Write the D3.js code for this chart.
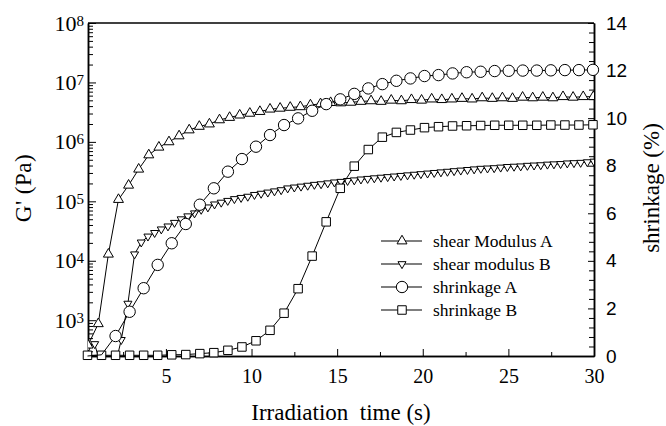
<!DOCTYPE html>
<html>
<head>
<meta charset="utf-8">
<script src="https://cdn.jsdelivr.net/npm/d3@7"></script>
<style>
  html, body { margin: 0; padding: 0; background: #fff; }
  svg { display: block; }
  text { font-family: "Liberation Serif", "Times New Roman", serif; fill: #000; }
</style>
</head>
<body>
<div id="chart"></div>
<script>
// sampling times (s)
var timeA = [0.45, 1.05, 1.64, 2.23, 2.82, 3.41, 4.0, 4.59, 5.18, 5.77, 6.36, 6.95, 7.54, 8.13, 8.72, 9.31,
  9.9, 10.49, 11.08, 11.67, 12.26, 12.85, 13.44, 14.03, 14.62, 15.21, 15.8, 16.39, 16.98, 17.57, 18.16,
  18.75, 19.34, 19.93, 20.52, 21.11, 21.7, 22.29, 22.88, 23.47, 24.06, 24.65, 25.24, 25.83, 26.42, 27.01,
  27.6, 28.19, 28.78, 29.37, 29.96];
// log10 of G' (Pa), shear modulus A
var shearALog = [2.58, 2.94, 4.11, 5.03, 5.27, 5.54, 5.78, 5.91, 6.00, 6.10, 6.20, 6.26, 6.30, 6.37, 6.41, 6.45,
  6.48, 6.51, 6.55, 6.565, 6.58, 6.59, 6.62, 6.64, 6.66, 6.655, 6.665, 6.68, 6.69, 6.68, 6.70,
  6.69, 6.71, 6.70, 6.72, 6.71, 6.72, 6.73, 6.72, 6.74, 6.73, 6.74, 6.73, 6.75, 6.74, 6.75,
  6.74, 6.76, 6.75, 6.76, 6.76];

var timeB = [0.45, 0.84, 1.23, 1.62, 2.01, 2.39, 2.78, 3.17, 3.56, 3.95, 4.34, 4.73, 5.12, 5.50, 5.89, 6.28,
  6.67, 7.06, 7.45, 7.84, 8.23, 8.61, 9.00, 9.39, 9.78, 10.17, 10.56, 10.95, 11.34, 11.73, 12.11, 12.50,
  12.89, 13.28, 13.67, 14.06, 14.45, 14.84, 15.22, 15.61, 16.00, 16.39, 16.78, 17.17, 17.56, 17.95, 18.33,
  18.72, 19.11, 19.50, 19.89, 20.28, 20.67, 21.06, 21.44, 21.83, 22.22, 22.61, 23.00, 23.39, 23.78, 24.17,
  24.55, 24.94, 25.33, 25.72, 26.11, 26.50, 26.89, 27.28, 27.66, 28.05, 28.44, 28.83, 29.22, 29.61, 30.00];
// log10 of G' (Pa), shear modulus B
var shearBLog = [2.55, 2.60, 2.2, 2.0, 2.2, 2.67, 3.28, 4.11, 4.31, 4.41, 4.47, 4.53, 4.58, 4.64, 4.70, 4.75,
  4.80, 4.86, 4.90, 4.95, 4.98, 5.01, 5.04, 5.06, 5.08, 5.11, 5.13, 5.15, 5.17, 5.19, 5.22, 5.235,
  5.25, 5.265, 5.28, 5.29, 5.305, 5.32, 5.33, 5.345, 5.355, 5.37, 5.38, 5.39, 5.40, 5.41, 5.42,
  5.43, 5.44, 5.45, 5.46, 5.47, 5.48, 5.49, 5.50, 5.51, 5.52, 5.53, 5.54, 5.55, 5.555, 5.56,
  5.57, 5.58, 5.585, 5.59, 5.60, 5.605, 5.61, 5.62, 5.625, 5.63, 5.64, 5.645, 5.65, 5.66, 5.67];

var timeS = [0.42, 1.24, 2.06, 2.88, 3.70, 4.52, 5.34, 6.16, 6.98, 7.80, 8.62, 9.44, 10.26, 11.08, 11.90,
  12.72, 13.54, 14.36, 15.18, 16.00, 16.82, 17.64, 18.46, 19.28, 20.10, 20.92, 21.74, 22.56, 23.38,
  24.20, 25.02, 25.84, 26.66, 27.48, 28.30, 29.12, 29.94];
// shrinkage (%)
var shrinkA = [0.0, 0.05, 0.84, 1.86, 2.85, 3.83, 4.74, 5.55, 6.36, 7.05, 7.75, 8.28, 8.80, 9.29, 9.71,
  9.99, 10.31, 10.59, 10.79, 11.02, 11.25, 11.43, 11.57, 11.67, 11.77, 11.81, 11.88, 11.93, 11.95,
  11.98, 11.99, 12.0, 12.0, 12.01, 12.02, 12.02, 12.03];
var shrinkB = [0.03, 0.03, 0.03, 0.03, 0.03, 0.03, 0.05, 0.06, 0.1, 0.14, 0.24, 0.38, 0.64, 1.08, 1.8,
  2.83, 4.2, 5.64, 7.05, 7.98, 8.68, 9.2, 9.4, 9.5, 9.6, 9.64, 9.67, 9.68, 9.69,
  9.7, 9.7, 9.7, 9.7, 9.71, 9.71, 9.71, 9.72];

var xTicks = [5, 10, 15, 20, 25, 30];
var xMinorTicks = [2.5, 7.5, 12.5, 17.5, 22.5, 27.5];
var gTicks = [1e3, 1e4, 1e5, 1e6, 1e7, 1e8];
var sTicks = [0, 2, 4, 6, 8, 10, 12, 14];
var legendNames = ['shear Modulus A', 'shear modulus B', 'shrinkage A', 'shrinkage B'];
</script>
<script>
var W = 666, H = 426;
var plotL = 88, plotR = 594, plotT = 23, plotB = 356;
var serifFont = '"Liberation Serif", "Times New Roman", serif';
var sansFont = '"Liberation Sans", Arial, sans-serif';

var svg = d3.select('#chart').append('svg')
    .attr('width', W)
    .attr('height', H);

var x = d3.scaleLinear().domain([0.45, 30]).range([plotL, plotR]);
var yG = d3.scaleLog().domain([250, 1e8]).range([plotB, plotT]);
var yS = d3.scaleLinear().domain([0, 14]).range([plotB, plotT]);

svg.append('clipPath').attr('id', 'plot-clip')
    .append('rect')
    .attr('x', plotL).attr('y', plotT)
    .attr('width', plotR - plotL).attr('height', plotB - plotT);

// minor tick lists (axis decoration only)
var gMinor = [];
for (var e = 2; e < 8; e++) {
    for (var m = 2; m < 10; m++) {
        var v = m * Math.pow(10, e);
        if (v >= 250) gMinor.push(v);
    }
}
var sMinor = d3.range(0.4, 14, 0.4).filter(function (d) { return Math.abs(d / 2 - Math.round(d / 2)) > 0.05; });

function styleAxis(axis) {
    axis.attr('font-family', serifFont).attr('font-size', null);
    axis.selectAll('.domain').attr('stroke', '#000').attr('stroke-width', 1.5);
    axis.selectAll('line').attr('stroke', '#000').attr('stroke-width', 1);
}

// bottom axis
var axisXMinor = svg.append('g')
    .attr('transform', 'translate(0,' + plotB + ')')
    .call(d3.axisBottom(x).tickValues(xMinorTicks).tickSizeInner(-4).tickSizeOuter(0).tickFormat(''));
var axisX = svg.append('g')
    .attr('transform', 'translate(0,' + plotB + ')')
    .call(d3.axisBottom(x).tickValues(xTicks).tickSizeInner(-7).tickSizeOuter(0).tickPadding(13));
styleAxis(axisXMinor);
styleAxis(axisX);
axisX.selectAll('text')
    .attr('font-size', 20)
    .attr('font-family', serifFont)
    .style('font-family', serifFont);

// left log axis
var axisGMinor = svg.append('g')
    .attr('transform', 'translate(' + plotL + ',0)')
    .call(d3.axisLeft(yG).tickValues(gMinor).tickSizeInner(-5).tickSizeOuter(0).tickFormat(''));
var axisG = svg.append('g')
    .attr('transform', 'translate(' + plotL + ',0)')
    .call(d3.axisLeft(yG).tickValues(gTicks).tickSizeInner(-8).tickSizeOuter(0).tickPadding(4));
styleAxis(axisGMinor);
styleAxis(axisG);
axisG.selectAll('.tick text').each(function (d) {
    var t = d3.select(this).text(null)
        .attr('font-size', 22)
        .attr('font-family', serifFont)
        .style('font-family', serifFont);
    t.append('tspan').text('10');
    t.append('tspan').attr('dy', -5).attr('font-size', 15).text(Math.round(Math.log10(d)));
});

// right linear axis
var axisSMinor = svg.append('g')
    .attr('transform', 'translate(' + plotR + ',0)')
    .call(d3.axisRight(yS).tickValues(sMinor).tickSizeInner(-5).tickSizeOuter(0).tickFormat(''));
var axisS = svg.append('g')
    .attr('transform', 'translate(' + plotR + ',0)')
    .call(d3.axisRight(yS).tickValues(sTicks).tickSizeInner(-6).tickSizeOuter(0).tickPadding(12));
styleAxis(axisSMinor);
styleAxis(axisS);
axisS.selectAll('text')
    .attr('font-size', 19)
    .attr('font-family', sansFont)
    .style('font-family', sansFont);

// top frame line
svg.append('line')
    .attr('x1', plotL).attr('x2', plotR)
    .attr('y1', plotT).attr('y2', plotT)
    .attr('stroke', '#000').attr('stroke-width', 1.5);

// titles
svg.append('text')
    .attr('x', 341).attr('y', 420)
    .attr('text-anchor', 'middle')
    .attr('font-size', 23)
    .attr('font-family', serifFont)
    .style('font-family', serifFont)
    .style('white-space', 'pre')
    .text('Irradiation  time (s)');

svg.append('text')
    .attr('transform', 'translate(31,188) rotate(-90)')
    .attr('text-anchor', 'middle')
    .attr('font-size', 23)
    .attr('letter-spacing', 0.5)
    .attr('font-family', serifFont)
    .style('font-family', serifFont)
    .text("G' (Pa)");

svg.append('text')
    .attr('transform', 'translate(659,188) rotate(-90)')
    .attr('text-anchor', 'middle')
    .attr('font-size', 23)
    .attr('font-family', serifFont)
    .style('font-family', serifFont)
    .text('shrinkage (%)');

// series
var symTriUp = d3.symbol().type(d3.symbolTriangle).size(43);
var symTriDown = d3.symbol().type(d3.symbolTriangle).size(28);
var symCircle = d3.symbol().type(d3.symbolCircle).size(102);
var symSquare = d3.symbol().type(d3.symbolSquare).size(72);

var series = [
    { t: timeB, v: shearBLog.map(function (d) { return Math.pow(10, d); }), y: yG, sym: symTriDown, rot: 180, clip: true },
    { t: timeA, v: shearALog.map(function (d) { return Math.pow(10, d); }), y: yG, sym: symTriUp, rot: 0, clip: true },
    { t: timeS, v: shrinkB, y: yS, sym: symSquare, rot: 0, clip: false },
    { t: timeS, v: shrinkA, y: yS, sym: symCircle, rot: 0, clip: false, minMark: 0.2 }
];

series.forEach(function (s) {
    var pts = s.t.map(function (t, i) { return [t, s.v[i]]; });
    var g = svg.append('g');
    if (s.clip) g.attr('clip-path', 'url(#plot-clip)');

    var line = d3.line()
        .x(function (d) { return x(d[0]); })
        .y(function (d) { return s.y(d[1]); });

    g.append('path')
        .datum(pts)
        .attr('d', line)
        .attr('fill', 'none')
        .attr('stroke', '#000')
        .attr('stroke-width', 1);

    // circles sitting on zero are hidden behind the squares in the original
    var marks = s.minMark ? pts.filter(function (d) { return d[1] > s.minMark; }) : pts;

    g.selectAll('path.mark')
        .data(marks)
        .enter().append('path')
        .attr('class', 'mark')
        .attr('d', s.sym)
        .attr('transform', function (d) {
            return 'translate(' + x(d[0]) + ',' + s.y(d[1]) + ') rotate(' + s.rot + ')';
        })
        .attr('fill', '#fff')
        .attr('stroke', '#000')
        .attr('stroke-width', 1);
});

// legend
var legendSyms = [[symTriUp, 0], [symTriDown, 180], [symCircle, 0], [symSquare, 0]];
var legend = svg.append('g').attr('transform', 'translate(381,241)');
legendNames.forEach(function (name, i) {
    var row = legend.append('g').attr('transform', 'translate(0,' + (i * 23) + ')');
    row.append('line')
        .attr('x1', 0).attr('x2', 41)
        .attr('stroke', '#000').attr('stroke-width', 1.2);
    row.append('path')
        .attr('d', legendSyms[i][0])
        .attr('transform', 'translate(21,0) rotate(' + legendSyms[i][1] + ')')
        .attr('fill', '#fff').attr('stroke', '#000');
    row.append('text')
        .attr('x', 52).attr('y', 6)
        .attr('font-size', 17.5)
        .attr('font-family', serifFont)
        .text(name);
});
</script>
</body>
</html>
